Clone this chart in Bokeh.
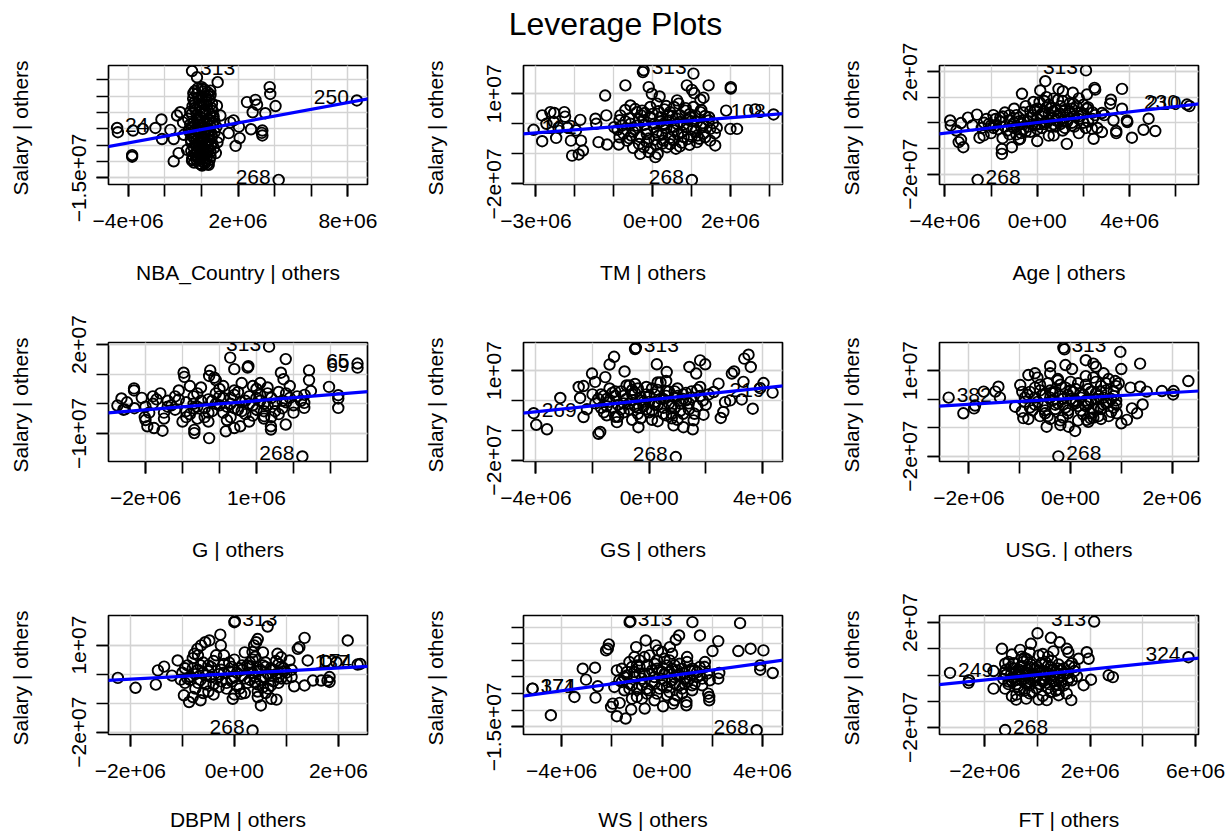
import numpy as np
from bokeh.plotting import figure
from bokeh.layouts import column, row
from bokeh.models import Range1d, FixedTicker, CustomJSTickFormatter, Slope
from bokeh.core.properties import value
from bokeh.embed import file_html
from bokeh.resources import INLINE

M = 1e6          # values below are in millions
FONT = "Liberation Sans"
FS = "21px"

# ---------------- Panel 1: NBA_Country ----------------
nba_pts = [(-0.24,15.8),(0.89,14.3),(0.49,11.7),(0.04,12.2),(-0.24,10.7),
    (-4.56,-1.0),(-3.73,-0.5),(-3.2,0.0),(-3.78,-8.0),(-3.78,-8.5),
    (-2.51,0.3),(-2.18,2.9),(-2.15,-3.1),(-1.69,-0.3),(-1.51,-3.1),(-1.51,-9.9),(-1.33,4.1),(-1.15,5.1),
    (-1.24,-7.4),(-1.0,2.0),(-0.96,-1.8),
    (2.49,8.2),(2.95,8.9),(3.04,7.4),(2.8,5.1),(3.49,4.8),(3.73,12.8),(3.76,10.7),(4.05,7.0),(2.71,-0.1),
    (3.33,-0.5),(3.33,-2.0),(3.3,-1.2),
    (1.76,2.6),(2.05,0.7),(2.09,-2.8),(1.87,-5.2),(1.49,-1.3),(1.58,2.0),(0.95,-2.6),(0.85,7.1),(1.04,4.1),(0.67,3.8),
    (0.04,-11.2),(-0.51,-9.7),
    (0.02,12.8),(0.35,11.2),(-0.18,9.6),(0.42,8.9),(-0.38,8.1),(0.12,7.6),(0.55,6.4),(-0.31,5.9),(0.21,5.2),
    (-0.52,4.6),(0.63,3.9),(-0.02,3.4),(-0.22,2.6),(0.31,2.1),(-0.61,1.4),(0.48,0.9),(0.09,0.4),(-0.33,-0.1),
    (0.41,-0.6),(-0.12,-1.1),(0.19,-1.6),(-0.49,-2.1),(0.58,-2.4),(0.01,-3.1),(-0.29,-3.6),(0.33,-4.1),
    (-0.09,-4.4),(0.52,-5.1),(-0.42,-5.6),(0.12,-6.1),(0.39,-6.6),(-0.21,-7.1),(0.22,-7.6),(-0.47,-8.1),
    (0.03,-8.6),(0.29,-9.1),(-0.27,-9.4),(0.08,-10.1),(-0.11,-10.6),(0.32,-10.8),(0.72,-1.0),(-0.68,-0.4),
    (0.82,0.6),(0.71,2.4),(-0.72,3.1),(0.88,-4.1),(-0.78,-6.4),(0.79,-7.4),(-0.05,6.8),(0.25,9.9),(-0.44,10.9),
    (0.15,-2.6),(-0.15,1.2),(0.45,4.6),(-0.58,-3.2),
    (0.18,12.0),(-0.35,11.6),(0.5,10.4),(-0.08,8.6),(0.3,7.2),(-0.48,7.0),(0.05,5.6),(-0.25,4.3),(0.38,3.1),
    (-0.4,2.0),(0.15,1.6),(-0.55,0.4),(0.27,-0.2),(-0.05,-0.6),(0.55,-1.4),(-0.3,-1.6),(0.08,-2.3),(-0.18,-2.8),
    (0.45,-3.2),(-0.55,-4.2),(0.2,-4.8),(-0.25,-5.2),(0.35,-5.6),(-0.05,-6.6),(0.5,-7.0),(-0.35,-7.7),(0.15,-8.2),
    (-0.15,-9.0),(0.45,-9.5),(-0.4,-10.3),(0.2,-10.5),(0.62,5.5),(-0.62,-1.2),(0.68,-5.9),(0.0,0.9),(-0.1,-8.0),
    (0.1,11.4),(-0.2,12.4),(0.4,10.0),(-0.45,9.3),(0.25,8.3),(-0.12,7.3),(0.58,7.8),(-0.36,6.4),(0.14,4.7),
    (-0.6,5.3),(0.44,2.7),(-0.1,2.1),(0.6,1.8),(-0.45,0.8),(0.2,-0.9),(-0.2,-0.4),(0.36,-2.0),(-0.4,-2.9),
    (0.0,-3.8),(0.6,-4.5),(-0.15,-5.8),(0.27,-6.9),(-0.55,-6.8),(0.1,-7.2),(0.5,-8.4),(-0.25,-8.6),(0.2,-9.7),
    (-0.5,-9.2),(0.0,-10.9),(0.4,-11.0)]
nba_labels = [("313",-0.51,17.7,"right"),("24",-4.6,0.3,"right"),("250",8.49,8.7,"left"),("268",4.22,-15.6,"left")]
nba_xr = [-5.07, 9.07]
nba_yr = [-17.0, 19.4]
nba_xticks = [-4,-2,0,2,4,6,8]
nba_xshown = [-4,2,8]
nba_yticks = [-15,-10,-5,0,5,10,15]
nba_yshown = [-15]
nba_fit = [1.03, -0.2]

# ---------------- Panel 2: TM ----------------
tm_pts = [(-0.25,17.2),(1.05,16.7),(-0.7,12.8),(-0.1,12.2),(0.88,12.8),(1.01,11.3),(1.07,10.2),(1.44,12.8),
    (2.01,12.2),(2.01,11.7),(1.31,8.7),(1.23,8.0),(-0.02,10.0),(0.18,9.1),(0.63,7.8),(0.67,6.7),(-0.57,6.1),(-1.22,9.4),
    (-2.84,2.8),(-2.84,-5.8),(-2.73,0.0),(-2.63,3.9),(-2.53,3.6),(-2.54,0.6),(-2.48,-4.7),(-2.42,-1.3),(-2.27,3.9),
    (-2.25,2.4),(-2.19,-1.3),(-2.1,-5.6),(-2.07,-10.6),(-1.97,-2.2),(-1.86,1.3),(-1.84,-5.6),(-1.9,-10.2),(-1.79,-8.9),
    (-1.47,1.7),(-1.45,0.0),(-1.39,-6.1),(-1.19,2.8),(-1.17,-6.9),(-0.99,-1.1),(-0.87,-6.9),
    (2.64,4.8),(1.89,4.4),(2.0,-1.7),(2.17,-1.7),(1.65,-1.3),(1.61,-7.2),(1.14,-6.1),(-0.32,-10.0),(0.07,-11.1),
    (0.13,-10.0),(-0.1,-9.4),
    (-0.83,2.8),(-0.57,0.0),(-0.75,-3.3),(-0.4,3.9),(-0.23,1.1),(-0.32,-4.4),(-0.06,5.6),(0.03,-1.1),(0.2,2.2),
    (0.28,-5.6),(0.45,3.9),(0.54,-2.2),(0.71,0.6),(0.8,-4.4),(0.97,2.2),(1.05,-1.7),(1.23,3.9),(1.31,-3.3),
    (1.44,1.1),(1.48,-5.6),(-0.23,-7.8),(0.37,-7.8),(-0.66,-5.6),(0.11,6.7),(-0.15,-2.2),(0.28,0.0),(0.63,0.0),
    (0.88,-1.1),(-0.4,-0.6),(-0.06,2.2),(0.41,1.1),(0.15,-3.9),(-0.27,4.4),(0.84,4.4),(1.14,0.6),(-0.79,-0.6),
    (1.48,-1.7),(-0.15,-6.1),(0.54,-5.6),(1.05,5.6),(0.6,-8.3),(-0.5,-8.0),(0.95,-7.0),(1.2,-5.0),(-0.9,-2.0),
    (0.3,4.8),(0.7,2.9),(-0.1,-4.9),
    (-0.6,1.8),(-0.45,-1.8),(-0.2,-0.3),(0.0,3.3),(0.1,-2.8),(0.35,-1.4),(0.5,2.6),(0.65,-3.5),(0.9,1.4),
    (1.1,-2.5),(1.3,0.2),(1.0,-4.3),(0.25,-6.6),(-0.35,-6.7),(0.75,-6.3),(1.35,2.6),(-0.7,4.6),(0.55,5.6),
    (-0.05,-8.2),(0.2,0.7),(0.95,3.2),(-0.3,2.9),(0.45,-4.7),(1.55,0.2),(-0.55,-3.9),(0.8,-0.3),(0.05,-5.3),
    (1.25,-1.2),(-0.85,-4.5),(0.35,5.9),
    (-0.7,0.8),(-0.5,-2.6),(-0.35,1.5),(-0.15,-3.4),(0.05,0.0),(0.15,4.2),(0.3,-0.4),(0.45,-6.8),(0.6,1.9),
    (0.75,-2.8),(0.9,-5.1),(1.0,0.9),(1.15,-3.9),(1.3,-0.6),(1.45,2.2),(1.6,-3.2),(-0.2,3.6),(0.4,3.0),(0.85,5.2),
    (-0.6,-4.8),(0.1,-7.0),(0.7,-7.5),(1.35,-4.5),(-0.85,1.2),(0.55,-1.0),(-0.05,1.8),(1.1,2.8),(0.25,-3.6),
    (-0.45,4.9),(1.25,4.6)]
tm_labels = [("313",-0.23,17.8,"right"),("162",-3.06,-2.0,"right"),("108",3.11,3.1,"left"),("268",1.01,-18.7,"left")]
tm_xr = [-3.32, 3.34]
tm_yr = [-20.2, 19.4]
tm_xticks = [-3,-2,-1,0,1,2,3]
tm_xshown = [-3,0,2]
tm_yticks = [-20,-10,0,10]
tm_yshown = [-20,10]
tm_fit = [1.0, 0.0]

# ---------------- Panel 3: Age ----------------
age_pts = [(0.35,16.2),(-0.66,11.3),(0.13,12.6),(0.92,13.2),(1.11,12.3),(1.54,11.7),(2.15,11.0),(2.48,13.6),
    (2.51,12.9),(3.67,13.2),(3.19,9.0),(3.16,7.4),(3.67,5.5),(3.88,0.9),(3.9,0.3),(4.82,1.6),(4.6,-2.7),(5.11,-3.2),
    (4.1,-5.8),(3.42,-3.2),(3.42,-4.0),(2.8,-3.6),
    (-3.77,0.9),(-3.74,-1.0),(-3.3,-0.1),(-3.3,-6.6),(-3.2,-9.5),(-3.4,-7.5),(-2.61,3.2),(-2.5,-5.8),(-2.32,-4.9),
    (-1.53,-12.1),(-1.53,-10.2),(-1.1,-9.5),(-0.74,-6.2),(0.0,-7.1),(1.28,-8.2),(0.71,-4.9),(2.44,-6.2),(2.37,-2.3),
    (2.8,3.8),(2.15,5.5),(1.57,7.4),(0.71,9.4),(-0.16,8.1),
    (-2.4,-2.0),(-2.2,1.5),(-2.0,-4.0),(-1.9,3.0),(-1.8,-1.0),(-1.6,0.5),(-1.5,-6.0),(-1.4,4.0),(-1.3,-3.0),
    (-1.2,1.0),(-1.1,-1.5),(-1.0,5.5),(-0.9,-4.5),(-0.8,2.0),(-0.7,-0.5),(-0.6,-2.5),(-0.5,6.5),(-0.4,0.5),
    (-0.3,-3.5),(-0.2,3.0),(-0.1,-1.0),(0.0,1.5),(0.1,8.0),(0.2,-2.0),(0.3,4.5),(0.4,0.0),(0.5,-5.0),(0.6,6.0),
    (0.7,2.0),(0.8,-1.5),(0.9,9.0),(1.0,3.5),(1.1,-3.0),(1.2,5.0),(1.3,0.5),(1.4,7.5),(1.5,-1.0),(1.6,2.5),
    (1.8,-4.0),(1.9,4.0),(2.0,0.0),(2.2,6.0),(2.4,1.5),(2.6,-2.0),(2.9,3.0),(3.3,1.0),(-2.8,-1.0),(-3.0,2.0),(-3.5,-3.0),
    (-2.3,0.0),(-1.7,-2.5),(-1.5,2.5),(-1.2,-4.5),(-1.0,0.0),(-0.9,3.0),(-0.6,1.0),(-0.5,-3.5),(-0.3,4.5),
    (-0.2,-0.5),(0.0,5.5),(0.0,-2.5),(0.2,2.5),(0.3,-0.5),(0.5,3.5),(0.5,7.0),(0.6,-1.5),(0.8,1.0),(0.8,5.0),
    (1.0,-0.5),(1.1,8.5),(1.2,2.0),(1.4,4.5),(1.5,0.0),(1.7,6.5),(1.8,1.5),(2.0,3.5),(2.1,-2.0),(2.4,4.0),
    (-1.8,1.5),(-2.0,-1.0),(0.4,10.0),(1.8,9.5),(-0.8,-6.5),
    (-2.1,-0.5),(-1.9,-2.0),(-1.6,2.0),(-1.4,-1.5),(-1.2,3.0),(-1.0,-2.0),(-0.8,0.5),(-0.6,4.0),(-0.4,-1.5),
    (-0.3,2.0),(-0.1,5.0),(0.1,-0.5),(0.2,3.5),(0.4,6.0),(0.5,1.0),(0.7,-0.5),(0.7,4.5),(0.9,2.5),(1.0,6.5),
    (1.1,0.5),(1.3,3.0),(1.5,5.5),(1.6,-1.5),(1.8,2.5),(2.0,7.0),(2.2,0.5),(2.5,3.0),(0.3,8.5),(-0.7,-4.0),(1.2,-2.0)]
age_labels = [("313",2.11,20.4,"left"),("230",6.48,7.1,"left"),("210",6.59,6.5,"left"),("268",-2.58,-22.2,"right")]
age_xr = [-4.23, 6.98]
age_yr = [-24.0, 22.3]
age_xticks = [-4,-2,0,2,4,6]
age_xshown = [-4,0,4]
age_yticks = [-20,-10,0,10,20]
age_yshown = [-20,20]
age_fit = [1.04, 0.11]

# ---------------- Panel 4: G ----------------
g_pts = [(0.29,15.6),(1.79,15.1),(0.76,12.2),(0.78,12.7),(-0.25,11.3),(-0.28,9.4),(-0.14,8.8),(0.4,11.7),
    (-0.97,10.5),(-0.95,9.1),(1.66,10.5),(1.73,8.3),(2.42,11.3),(2.42,8.0),(2.47,4.3),(2.96,5.7),(3.21,2.9),
    (3.21,1.8),(3.21,-1.4),(2.29,-1.4),(2.29,0.3),(1.79,-7.0),(1.39,-7.6),(1.39,-8.7),(1.21,-4.2),(-0.28,-11.6),
    (0.17,-9.3),(-0.68,-9.9),(-0.68,-8.8),(-1.95,-7.6),(-1.77,-8.2),(-1.54,-9.1),(-2.31,4.5),(-2.31,5.2),
    (-2.76,-0.6),(-2.65,1.8),(-2.56,-1.9),(-2.02,-4.5),(0.56,-7.6),(0.4,-8.2),
    (-2.5,0.5),(-2.3,-1.5),(-2.1,2.0),(-1.9,-3.0),(-1.8,0.0),(-1.6,3.5),(-1.5,-5.0),(-1.4,1.0),(-1.2,-2.0),
    (-1.1,4.5),(-1.0,-6.0),(-0.9,0.5),(-0.8,-3.5),(-0.7,2.5),(-0.6,-1.0),(-0.5,5.5),(-0.4,-4.5),(-0.3,1.5),
    (-0.2,-2.5),(-0.1,3.5),(0.0,-0.5),(0.1,6.0),(0.2,-5.5),(0.3,2.0),(0.4,-1.5),(0.5,4.0),(0.6,0.5),(0.7,-3.5),
    (0.8,2.5),(0.9,-0.5),(1.0,5.0),(1.1,1.0),(1.2,-2.5),(1.3,3.5),(1.4,-4.5),(1.5,0.0),(1.6,4.0),(1.7,-1.5),
    (1.9,2.0),(2.0,-3.0),(2.2,1.0),(-2.0,-5.5),(0.6,7.0),(-0.8,6.0),(1.1,7.0),
    (-2.0,-1.0),(-1.7,1.5),(-1.3,-0.5),(-1.2,2.5),(-0.9,-2.5),(-0.7,0.0),(-0.6,3.5),(-0.4,-1.5),(-0.2,1.0),
    (0.0,2.5),(0.1,-3.0),(0.3,0.0),(0.4,3.0),(0.5,-2.0),(0.7,1.0),(0.9,-4.0),(1.0,2.0),(1.2,0.0),(1.3,5.5),
    (1.5,-2.5),(1.7,1.0),(1.8,3.5),(2.0,-0.5),(-1.5,-3.0),(-0.3,-6.0),(0.8,-6.0),(2.3,3.0),(-2.6,-2.0),(1.9,6.0),(-0.1,8.0),
    (-1.4,-1.0),(-1.1,1.5),(-0.9,-4.5),(-0.7,-1.5),(-0.5,1.0),(-0.3,-3.0),(-0.1,0.0),(0.1,2.0),(0.2,-1.0),
    (0.4,4.5),(0.6,-2.5),(0.8,0.0),(1.0,-2.0),(1.1,3.0),(1.3,-0.5),(1.4,2.0),(1.6,-3.5),(1.8,0.5),(2.1,2.5),
    (-0.6,-5.0),(0.3,-4.5),(1.2,-5.0),(-1.8,2.5),(0.0,5.0),(0.9,6.0)]
g_labels = [("313",1.34,19.3,"left"),("65",3.73,13.6,"left"),("69",3.73,12.2,"left"),("268",2.24,-17.8,"left")]
g_xr = [-3.0, 4.0]
g_yr = [-19.5, 20.7]
g_xticks = [-2,-1,0,1,2,3]
g_xshown = [-2,1]
g_yticks = [-10,0,10,20]
g_yshown = [-10,20]
g_fit = [1.02, 0.0]

# ---------------- Panel 5: GS ----------------
gs_pts = [(-0.5,17.2),(-1.24,14.6),(-1.4,12.0),(0.27,12.1),(-0.87,9.7),(0.62,9.5),(1.42,11.2),(1.8,13.4),
    (1.98,12.1),(1.66,9.0),(-2.02,9.0),(-1.55,7.8),(-1.91,6.2),(-2.49,4.5),(-2.32,4.8),(-3.14,0.8),(-2.44,0.8),
    (-2.32,-5.6),(-3.99,-8.2),(-3.61,-9.7),(-1.79,-11.2),(-1.73,-10.6),(-1.14,-7.3),(-0.38,-9.0),(0.86,-8.4),
    (1.21,-9.0),(1.54,-9.7),(1.57,-6.7),(1.92,-4.8),(2.53,-5.9),(2.62,-3.9),(2.68,-0.6),(2.86,0.0),(2.92,9.0),
    (3.0,9.7),(3.33,6.2),(3.36,14.0),(3.51,15.3),(3.59,11.2),(3.66,-2.8),(4.04,5.8),(3.92,4.1),(3.27,0.3),
    (2.45,5.6),(2.28,2.8),
    (-1.9,-1.0),(-1.7,2.0),(-1.6,-4.0),(-1.5,0.5),(-1.4,4.0),(-1.3,-2.5),(-1.2,1.5),(-1.1,-5.5),(-1.0,3.0),
    (-0.9,-1.0),(-0.8,5.0),(-0.7,-3.0),(-0.6,0.0),(-0.5,2.5),(-0.4,-4.5),(-0.3,1.0),(-0.2,-2.0),(-0.1,4.5),
    (0.0,-0.5),(0.1,-3.5),(0.2,2.0),(0.3,-1.5),(0.4,6.0),(0.5,0.5),(0.6,-5.0),(0.7,3.0),(0.8,-2.0),(0.9,1.0),
    (1.0,4.0),(1.1,-3.5),(1.2,0.5),(1.3,2.5),(1.4,-1.0),(1.6,-4.5),(1.7,3.5),(1.9,0.0),(2.1,2.0),(-2.2,-3.0),
    (-0.6,-6.5),(0.3,-7.0),
    (-1.8,0.5),(-1.5,-2.0),(-1.3,2.5),(-1.0,-3.0),(-0.9,1.5),(-0.7,-1.0),(-0.6,3.5),(-0.4,-2.5),(-0.3,0.0),
    (-0.1,2.0),(0.0,-4.0),(0.2,-0.5),(0.3,3.5),(0.5,-2.5),(0.6,1.5),(0.8,-4.5),(0.9,3.0),(1.1,-1.0),(1.2,2.0),
    (1.4,-3.0),(1.5,1.0),(1.7,-2.0),(1.8,4.5),(-1.2,-5.5),(0.1,-6.5),(1.0,-6.5),(-0.5,5.5),(0.6,6.5),(2.0,-1.5),(-2.0,2.0),
    (-1.7,-2.5),(-1.6,1.5),(-1.4,-0.5),(-1.2,3.0),(-1.1,-1.5),(-0.9,-4.0),(-0.8,0.5),(-0.6,2.0),(-0.5,-2.0),
    (-0.4,4.0),(-0.2,-0.5),(-0.1,-3.0),(0.0,1.5),(0.1,4.0),(0.2,-1.5),(0.4,0.5),(0.5,-4.5),(0.6,3.0),(0.7,-1.0),
    (0.9,-2.5),(1.0,1.5),(1.2,-4.5),(1.3,0.0),(1.5,3.0),(-1.5,-5.0),(-0.3,-6.0),(0.8,-6.0),(-0.7,5.0),(0.3,6.0),(1.8,1.5)]
gs_labels = [("313",-0.47,17.6,"right"),("269",-4.08,-4.3,"right"),("219",4.36,2.6,"left"),("268",0.94,-19.0,"left")]
gs_xr = [-4.44, 4.71]
gs_yr = [-20.5, 19.4]
gs_xticks = [-4,-2,0,2,4]
gs_xshown = [-4,0,4]
gs_yticks = [-20,-10,0,10]
gs_yshown = [-20,10]
gs_fit = [0.99, 0.14]

# ---------------- Panel 6: USG. ----------------
usg_pts = [(-0.12,17.4),(0.98,16.5),(0.3,13.6),(0.45,12.4),(0.5,11.3),(1.37,12.4),(1.0,10.5),(-0.1,11.9),
    (-0.4,11.5),(-0.4,9.0),(0.03,10.5),(0.65,9.0),(0.88,6.3),(-0.83,8.4),(-0.7,9.0),(-0.99,4.9),
    (-2.11,-5.0),(-1.9,-3.3),(-1.88,-2.3),(-1.71,2.6),(-1.48,2.6),(-1.42,4.3),(-1.39,0.5),(-1.09,-2.7),(-0.96,-4.4),
    (-0.83,-7.0),(-0.93,-6.7),(-0.47,-9.7),(-0.2,-9.1),(-0.04,-9.7),(0.09,-11.2),(0.32,-7.3),(0.39,-6.7),(0.91,-5.0),
    (1.0,-8.5),(1.11,-7.3),(1.21,-3.3),(1.31,-5.0),(1.18,4.0),(1.37,4.3),(1.42,-1.9),(1.5,2.6),(1.8,2.8),(2.02,1.6),
    (2.03,2.8),(2.32,6.3),
    (-0.9,-1.0),(-0.8,2.5),(-0.75,-4.0),(-0.7,0.5),(-0.6,5.0),(-0.55,-2.5),(-0.5,1.5),(-0.45,-6.0),(-0.4,3.0),
    (-0.35,-0.5),(-0.3,-3.5),(-0.25,6.5),(-0.2,1.0),(-0.15,-2.0),(-0.1,4.0),(-0.05,-5.0),(0.0,0.0),(0.05,2.5),
    (0.1,-1.5),(0.15,5.5),(0.2,-4.0),(0.25,1.5),(0.3,-2.5),(0.35,3.5),(0.4,-0.5),(0.45,-6.5),(0.5,2.0),(0.55,-3.0),
    (0.6,4.5),(0.65,0.5),(0.7,-1.5),(0.75,7.0),(0.8,-4.5),(0.85,2.5),(0.9,-0.5),(0.95,5.5),(-0.65,7.5),(0.3,8.0),
    (-0.2,-7.5),(0.6,-7.0),
    (-0.85,1.5),(-0.7,-2.0),(-0.6,3.0),(-0.5,-4.0),(-0.4,0.5),(-0.3,2.5),(-0.25,-1.5),(-0.1,-3.0),(-0.05,1.5),
    (0.05,-1.0),(0.1,3.5),(0.2,0.5),(0.25,-5.5),(0.3,-0.5),(0.4,2.5),(0.45,-3.5),(0.55,1.0),(0.65,-2.0),(0.7,3.0),
    (0.8,0.0),(0.85,-3.0),(0.9,4.5),(-0.45,5.5),(0.5,6.0),(-0.15,-6.5),(0.35,-8.0),(-0.6,-6.0),(0.75,-6.0),
    (-0.95,2.5),(0.0,6.0),
    (-0.9,0.5),(-0.8,-3.0),(-0.7,4.0),(-0.65,-1.0),(-0.55,1.5),(-0.5,-5.0),(-0.35,2.0),(-0.3,-2.0),(-0.2,5.0),
    (-0.15,0.0),(-0.05,-4.0),(0.0,3.0),(0.1,-0.5),(0.15,-2.5),(0.2,2.0),(0.3,5.0),(0.35,-1.5),(0.4,-5.0),(0.5,0.0),
    (0.6,-3.5),(0.6,2.5),(0.7,5.5),(0.75,-1.0),(0.85,1.0),(0.9,-2.0),(-0.4,-7.0),(0.15,-7.5),(0.55,-6.0),(-0.25,7.0),(0.45,7.5)]
usg_labels = [("313",-0.14,17.9,"right"),("382",-2.4,0.5,"right"),("268",-0.24,-20.1,"right")]
usg_xr = [-2.58, 2.52]
usg_yr = [-21.9, 19.8]
usg_xticks = [-2,-1,0,1,2]
usg_xshown = [-2,0,2]
usg_yticks = [-20,-10,0,10]
usg_yshown = [-20,10]
usg_fit = [1.03, 0.2]

# ---------------- Panel 7: DBPM ----------------
dbpm_pts = [(0.01,18.2),(0.64,16.4),(-0.27,13.6),(0.45,12.1),(0.42,11.0),(0.38,9.9),(0.35,7.6),(-0.48,11.6),
    (-0.56,11.0),(-0.64,9.9),(-0.71,8.7),(-0.77,7.0),(-0.26,9.9),(1.22,8.7),(1.25,9.3),(1.35,12.5),(2.18,11.6),
    (1.41,4.7),(1.76,4.5),(1.96,4.1),(1.83,-1.0),(1.83,-2.7),(1.79,-2.2),(1.51,-2.2),(1.67,-2.2),(1.1,-1.0),
    (1.15,-4.2),(1.35,-3.9),(0.81,-8.8),(1.06,4.7),(0.83,7.0),(0.9,5.8),
    (-2.24,-1.3),(-1.9,-4.7),(-1.51,-3.6),(-1.47,1.3),(-1.35,2.6),(-1.09,4.7),(-1.03,-1.9),(-0.97,-7.3),
    (-0.87,-9.6),(-0.8,-7.9),(-0.65,-9.0),(-0.03,-8.5),(0.13,-6.8),(0.51,-10.8),(0.45,-7.9),(0.71,-8.5),
    (-1.0,0.5),(-0.95,-3.0),(-0.9,3.0),(-0.85,-1.0),(-0.8,5.5),(-0.75,-5.0),(-0.7,1.5),(-0.65,-2.0),(-0.6,4.0),
    (-0.55,-0.5),(-0.5,-6.0),(-0.45,2.5),(-0.4,-3.5),(-0.35,6.5),(-0.3,0.0),(-0.25,-2.5),(-0.2,3.5),(-0.15,-5.0),
    (-0.1,1.0),(-0.05,-1.5),(0.0,5.0),(0.05,-4.0),(0.1,2.0),(0.15,-0.5),(0.2,-6.5),(0.25,3.0),(0.3,-2.0),
    (0.35,0.5),(0.4,6.0),(0.45,-3.5),(0.5,1.5),(0.55,-1.0),(0.6,4.0),(0.65,-5.0),(0.7,2.0),(0.75,-2.5),(0.8,0.0),
    (0.85,3.5),(0.9,-1.5),(0.95,1.0),
    (-0.9,-1.5),(-0.8,2.0),(-0.7,-3.0),(-0.6,0.5),(-0.5,3.0),(-0.45,-1.0),(-0.3,-4.5),(-0.25,1.5),(-0.1,4.0),
    (-0.05,-2.5),(0.05,0.5),(0.15,3.0),(0.2,-1.5),(0.3,2.5),(0.4,-3.0),(0.45,1.0),(0.55,-4.5),(0.6,2.5),(0.7,-0.5),
    (0.8,4.5),(0.85,-3.0),(0.95,2.0),(1.0,-1.5),(-0.7,6.5),(0.2,7.5),(-0.4,-7.0),(0.6,-6.5),(1.1,1.5),(-1.2,-0.5),(0.35,5.0),
    (-0.95,2.0),(-0.85,-2.0),(-0.75,0.0),(-0.65,3.0),(-0.55,-3.5),(-0.5,1.0),(-0.4,4.5),(-0.35,-1.5),(-0.2,0.5),
    (-0.15,-3.0),(-0.05,2.5),(0.0,-1.0),(0.1,-5.0),(0.15,1.5),(0.25,-3.0),(0.3,4.0),(0.4,-1.0),(0.5,-2.0),(0.55,3.0),
    (0.65,0.0),(0.7,-4.0),(0.75,1.5),(0.85,-1.0),(0.9,2.5),(1.0,0.5),(-0.6,-6.5),(0.0,-7.0),(0.45,-6.0),(-0.2,6.5),(0.55,7.5)]
dbpm_labels = [("313",0.0,17.9,"right"),("137",2.37,3.3,"left"),("174",2.42,3.5,"left"),("268",0.35,-19.4,"left")]
dbpm_xr = [-2.42, 2.56]
dbpm_yr = [-20.8, 20.2]
dbpm_xticks = [-2,-1,0,1,2]
dbpm_xshown = [-2,0,2]
dbpm_yticks = [-20,-10,0,10]
dbpm_yshown = [-20,10]
dbpm_fit = [0.97, 0.17]

# ---------------- Panel 8: WS ----------------
ws_pts = [(-1.26,16.8),(1.21,16.5),(3.11,16.2),(1.51,12.5),(0.68,12.5),(0.55,11.2),(-0.65,11.0),(2.24,10.8),
    (-2.12,9.8),(-2.23,8.0),(-2.16,8.5),(-1.03,9.0),(-0.25,9.5),(-0.16,8.0),(0.31,9.0),(2.01,7.8),(3.53,8.5),
    (4.04,8.0),(3.04,7.8),(3.91,3.5),(3.91,2.2),(4.41,1.2),(2.24,-0.5),(1.71,4.5),
    (-4.43,-11.5),(-3.49,-6.0),(-3.16,2.5),(-3.03,-0.8),(-2.67,2.8),(-2.56,-2.8),(-2.65,-6.2),(-2.03,-9.0),
    (-1.96,-8.0),(-1.8,-11.8),(-1.45,-12.5),(-1.69,-7.8),(-1.23,-9.8),(-0.69,-9.5),(0.04,-8.8),(0.44,-8.0),
    (0.97,-8.5),(0.97,-7.5),(1.88,-6.0),(1.88,-7.0),(1.84,-5.0),(2.28,1.2),
    (-1.7,-1.0),(-1.6,2.5),(-1.5,-4.0),(-1.4,0.5),(-1.3,4.5),(-1.2,-2.5),(-1.1,1.5),(-1.0,-6.0),(-0.9,3.0),
    (-0.8,-0.5),(-0.7,6.0),(-0.6,-3.5),(-0.5,1.0),(-0.4,-1.5),(-0.3,4.0),(-0.2,-5.0),(-0.1,2.0),(0.0,-0.5),
    (0.1,5.5),(0.2,-3.0),(0.3,1.5),(0.4,-1.0),(0.5,3.5),(0.6,-5.5),(0.7,0.5),(0.8,2.5),(0.9,-2.0),(1.0,4.5),
    (1.1,-0.5),(1.2,-4.0),(1.3,2.0),(1.4,0.0),(1.5,3.0),(1.6,-2.5),(1.8,1.0),(-1.9,-3.0),(-0.3,-7.0),(0.4,7.0),
    (-1.5,0.0),(-1.3,-2.0),(-1.2,3.0),(-1.0,-3.5),(-0.9,1.0),(-0.7,-1.5),(-0.6,3.5),(-0.5,-4.0),(-0.3,0.0),
    (-0.2,2.5),(0.0,-2.5),(0.1,1.0),(0.2,3.5),(0.3,-4.5),(0.5,0.0),(0.6,2.0),(0.7,-2.5),(0.9,1.0),(1.0,-1.5),
    (1.2,2.5),(1.3,-2.0),(1.5,0.5),(1.7,3.0),(-1.1,6.0),(0.0,7.5),(-0.8,-6.5),(0.8,-5.0),(1.9,-1.0),(-1.8,2.0),(0.3,5.0),
    (-1.6,-1.5),(-1.4,1.5),(-1.3,-3.5),(-1.1,0.0),(-1.0,3.5),(-0.8,-2.5),(-0.7,1.0),(-0.6,-5.0),(-0.4,2.0),
    (-0.3,-2.0),(-0.2,5.0),(-0.1,-3.5),(0.0,1.5),(0.1,-1.0),(0.2,-5.5),(0.4,2.5),(0.5,-2.0),(0.6,0.5),(0.7,4.0),
    (0.8,-3.5),(0.9,-0.5),(1.1,2.0),(1.2,-2.5),(1.4,1.5),(1.6,-0.5),(-1.2,-6.5),(-0.5,6.5),(0.5,-7.0),(1.0,6.0),(-0.9,5.0)]
ws_labels = [("313",-1.29,16.5,"right"),("371",-5.16,-3.5,"right"),("174",-5.16,-3.5,"right"),("268",3.77,-16.0,"left")]
ws_xr = [-5.52, 4.8]
ws_yr = [-17.3, 18.5]
ws_xticks = [-4,-2,0,2,4]
ws_xshown = [-4,0,4]
ws_yticks = [-15,-10,-5,0,5,10,15]
ws_yshown = [-15]
ws_fit = [1.04, 0.04]

# ---------------- Panel 9: FT ----------------
ft_pts = [(0.0,15.9),(0.51,14.2),(0.84,12.5),(-0.25,11.9),(-1.35,10.0),(-0.97,7.8),(-0.66,9.6),(1.11,10.0),
    (1.17,8.7),(1.87,8.7),(1.94,6.2),(1.56,6.2),(2.7,-0.1),(2.86,-0.8),(2.03,-1.8),(1.75,-3.9),(1.28,-9.6),
    (1.11,-7.1),(0.8,-7.7),(0.35,-9.6),(0.04,-9.4),(-0.43,-9.0),(-0.81,-9.4),(-0.97,-8.1),(-1.67,-5.2),
    (-1.23,-5.2),(-1.67,1.5),(-1.23,4.3),(-2.62,-3.0),(-2.6,-2.0),
    (-1.3,-1.5),(-1.2,2.0),(-1.1,-3.5),(-1.0,0.5),(-0.9,4.5),(-0.85,-2.0),(-0.8,1.5),(-0.7,-5.5),(-0.65,3.0),
    (-0.6,-0.5),(-0.5,6.5),(-0.45,-3.0),(-0.4,1.0),(-0.3,-1.5),(-0.25,4.0),(-0.2,-6.5),(-0.1,2.5),(0.0,-0.5),
    (0.05,7.5),(0.1,-3.5),(0.2,1.5),(0.25,-1.5),(0.3,5.0),(0.4,-5.0),(0.45,0.5),(0.5,3.0),(0.6,-2.5),(0.65,1.0),
    (0.7,-6.0),(0.8,4.0),(0.85,-1.0),(0.9,2.0),(1.0,-4.0),(1.1,0.5),(1.2,3.5),(1.3,-2.0),(1.4,1.5),(1.5,-0.5),
    (-0.3,8.5),(0.6,9.0),(-0.8,-7.5),
    (-1.2,0.0),(-1.0,-2.0),(-0.9,2.5),(-0.8,-3.5),(-0.7,0.0),(-0.6,3.5),(-0.5,-1.5),(-0.4,2.0),(-0.3,-4.0),
    (-0.2,0.5),(-0.1,-2.0),(0.0,3.0),(0.1,1.0),(0.2,-2.5),(0.3,0.0),(0.4,3.5),(0.5,-1.5),(0.6,2.0),(0.7,-3.5),
    (0.8,0.5),(0.9,-2.0),(1.0,2.5),(1.2,-1.0),(-0.4,6.0),(0.4,7.0),(-0.5,-6.0),(0.5,-6.5),(1.3,4.5),(-1.1,5.0),(0.2,-8.0),
    (-1.25,1.0),(-1.1,-2.5),(-1.0,3.0),(-0.95,-1.0),(-0.85,0.5),(-0.75,-4.5),(-0.7,2.0),(-0.6,-2.0),(-0.55,5.0),
    (-0.45,0.0),(-0.35,-3.0),(-0.3,3.0),(-0.15,-1.0),(-0.05,-5.0),(0.05,1.5),(0.15,4.5),(0.25,-2.0),(0.35,1.0),
    (0.45,-3.5),(0.55,5.5),(0.6,-0.5),(0.75,2.5),(0.9,-3.0),(1.0,0.5),(1.15,-2.0),(-0.6,7.0),(0.2,8.0),(-0.3,-7.0),
    (0.8,-5.5),(1.4,3.0)]
ft_labels = [("313",2.15,20.4,"left"),("324",5.73,6.8,"left"),("249",-3.32,0.8,"right"),("268",-1.23,-21.0,"right")]
ft_xr = [-3.72, 6.11]
ft_yr = [-22.7, 22.7]
ft_xticks = [-2,0,2,4,6]
ft_xshown = [-2,2,6]
ft_yticks = [-20,-10,0,10,20]
ft_yshown = [-20,20]
ft_fit = [1.03, 0.16]

panels = [
    (nba_pts, nba_labels, nba_xr, nba_yr, nba_xticks, nba_xshown, nba_yticks, nba_yshown, nba_fit, "NBA_Country | others"),
    (tm_pts, tm_labels, tm_xr, tm_yr, tm_xticks, tm_xshown, tm_yticks, tm_yshown, tm_fit, "TM | others"),
    (age_pts, age_labels, age_xr, age_yr, age_xticks, age_xshown, age_yticks, age_yshown, age_fit, "Age | others"),
    (g_pts, g_labels, g_xr, g_yr, g_xticks, g_xshown, g_yticks, g_yshown, g_fit, "G | others"),
    (gs_pts, gs_labels, gs_xr, gs_yr, gs_xticks, gs_xshown, gs_yticks, gs_yshown, gs_fit, "GS | others"),
    (usg_pts, usg_labels, usg_xr, usg_yr, usg_xticks, usg_xshown, usg_yticks, usg_yshown, usg_fit, "USG. | others"),
    (dbpm_pts, dbpm_labels, dbpm_xr, dbpm_yr, dbpm_xticks, dbpm_xshown, dbpm_yticks, dbpm_yshown, dbpm_fit, "DBPM | others"),
    (ws_pts, ws_labels, ws_xr, ws_yr, ws_xticks, ws_xshown, ws_yticks, ws_yshown, ws_fit, "WS | others"),
    (ft_pts, ft_labels, ft_xr, ft_yr, ft_xticks, ft_xshown, ft_yticks, ft_yshown, ft_fit, "FT | others"),
]
YLAB = "Salary  | others"
TITLE = "Leverage Plots"

FMT = CustomJSTickFormatter(code="""
if (Math.abs(tick) < 1) { return "0e+00"; }
const a = Math.abs(tick);
const e = Math.floor(Math.log10(a) + 1e-9);
const m = Math.round(a / Math.pow(10, e) * 100) / 100;
return (tick < 0 ? "\\u2212" : "") + m + "e+" + (e < 10 ? "0" : "") + e;
""")

# layout borders (px): (left, right) per column, (top, bottom) per row
COL_B = [(108, 51), (105, 51), (106, 33)]
ROW_B = [(23, 118), (40, 114), (40, 103)]
XLAB_STANDOFF = [30, 30, 27]
TITLE_H = 42


def style_axis(ax, ticks, shown, lab_standoff, title_standoff, vertical):
    ax.ticker = FixedTicker(ticks=[t * M for t in shown], minor_ticks=[t * M for t in ticks])
    ax.formatter = FMT
    ax.axis_line_color = None
    ax.major_tick_in = 0
    ax.major_tick_out = 12
    ax.minor_tick_in = 0
    ax.minor_tick_out = 12
    ax.major_tick_line_color = "black"
    ax.minor_tick_line_color = "black"
    ax.major_tick_line_width = 1.7
    ax.minor_tick_line_width = 1.7
    ax.major_label_text_font = FONT
    ax.major_label_text_font_size = FS
    ax.major_label_text_color = "black"
    ax.axis_label_text_font = FONT
    ax.axis_label_text_font_size = FS
    ax.axis_label_text_font_style = "normal"
    ax.axis_label_text_color = "black"
    ax.major_label_standoff = lab_standoff
    ax.axis_label_standoff = title_standoff
    if vertical:
        ax.major_label_orientation = "vertical"


def make_panel(i, spec):
    pts, labels, xr, yr, xt, xs, yt, ys, fit, xlab = spec
    r, c = divmod(i, 3)
    bl, br = COL_B[c]
    bt, bb = ROW_B[r]
    p = figure(frame_width=259, frame_height=119,
               x_range=Range1d(xr[0] * M, xr[1] * M), y_range=Range1d(yr[0] * M, yr[1] * M),
               output_backend="svg", toolbar_location=None,
               min_border_left=bl, min_border_right=br, min_border_top=bt, min_border_bottom=bb,
               x_axis_label=xlab, y_axis_label=YLAB)
    p.background_fill_color = "white"
    p.border_fill_color = "white"
    p.outline_line_color = "black"
    p.outline_line_width = 1.7
    style_axis(p.xaxis[0], xt, xs, 17, XLAB_STANDOFF[r], False)
    style_axis(p.yaxis[0], yt, ys, 10, 38, True)
    for g in p.grid:
        g.grid_line_color = "#D3D3D3"
        g.grid_line_width = 1.3
        g.minor_grid_line_color = "#D3D3D3"
        g.minor_grid_line_width = 1.3
    xs_ = [q[0] * M for q in pts] + [l[1] * M for l in labels]
    ys_ = [q[1] * M for q in pts] + [l[2] * M for l in labels]
    p.scatter(xs_, ys_, marker="circle", size=10.5, fill_color=None,
              line_color="black", line_width=1.9)
    p.add_layout(Slope(gradient=fit[0], y_intercept=fit[1] * M,
                       line_color="#0000FF", line_width=3.2))
    for side, align, off in (("left", "right", -8), ("right", "left", 8)):
        sel = [l for l in labels if l[3] == side]
        if sel:
            p.text(x=[l[1] * M for l in sel], y=[l[2] * M for l in sel], text=[l[0] for l in sel],
                   text_align=align, text_baseline="middle", x_offset=off, y_offset=-3,
                   text_font=value(FONT), text_font_size=FS, text_color="black")
    return p


figs = [make_panel(i, s) for i, s in enumerate(panels)]

t = figure(width=1231, height=TITLE_H, x_range=Range1d(0, 1231), y_range=Range1d(0, TITLE_H),
           output_backend="svg", toolbar_location=None, min_border=0,
           x_axis_location=None, y_axis_location=None)
t.grid.visible = False
t.outline_line_color = None
t.text(x=[615], y=[TITLE_H - 23.7], text=[TITLE], text_align="center", text_baseline="middle",
       text_font=value(FONT), text_font_size="32px", text_color="black")

layout = column(t, row(*figs[0:3]), row(*figs[3:6]), row(*figs[6:9]))

open("out.html", "w").write(file_html(layout, INLINE))
